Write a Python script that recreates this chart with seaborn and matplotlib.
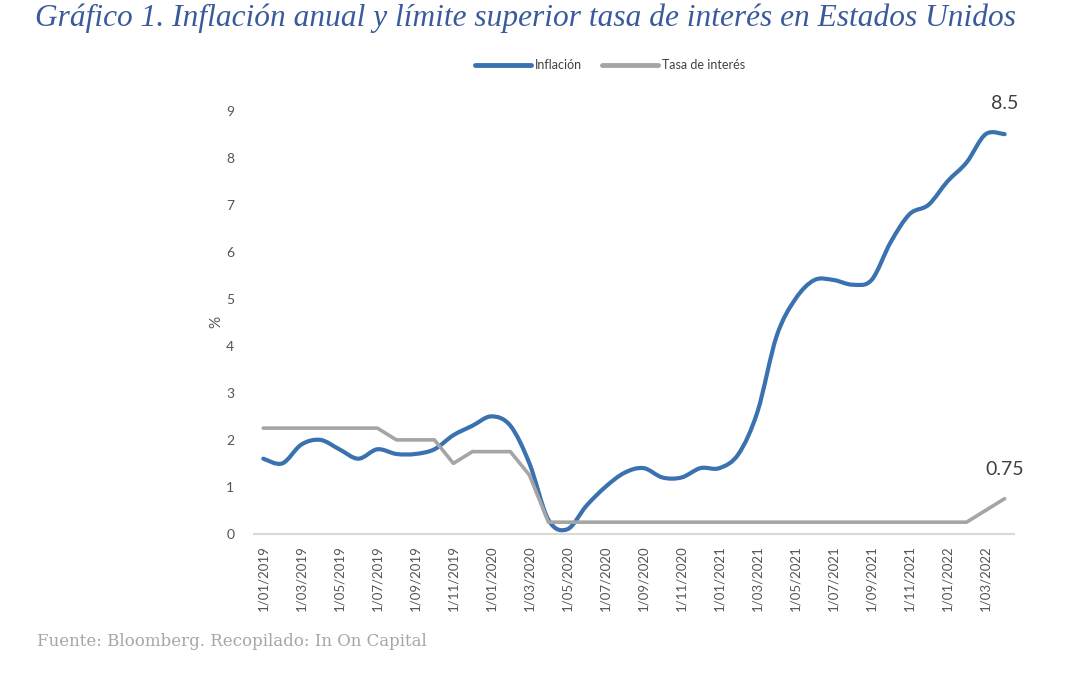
import numpy as np
import pandas as pd
import matplotlib
matplotlib.use("Agg")
import matplotlib.pyplot as plt
from matplotlib.path import Path
from matplotlib.patches import PathPatch
from matplotlib.lines import Line2D
import seaborn as sns

# monthly data, Jan 2019 - Apr 2022
months = pd.date_range("2019-01-01", "2022-04-01", freq="MS")
inflacion = [1.6, 1.5, 1.9, 2.0, 1.8, 1.6, 1.8, 1.7, 1.7, 1.8, 2.1, 2.3,
             2.5, 2.3, 1.5, 0.3, 0.1, 0.6, 1.0, 1.3, 1.4, 1.2, 1.2, 1.4,
             1.4, 1.7, 2.6, 4.2, 5.0, 5.4, 5.4, 5.3, 5.4, 6.2, 6.8, 7.0,
             7.5, 7.9, 8.5, 8.5]
tasa = [2.25, 2.25, 2.25, 2.25, 2.25, 2.25, 2.25, 2.0, 2.0, 2.0, 1.5, 1.75,
        1.75, 1.75, 1.25, 0.25, 0.25, 0.25, 0.25, 0.25, 0.25, 0.25, 0.25, 0.25,
        0.25, 0.25, 0.25, 0.25, 0.25, 0.25, 0.25, 0.25, 0.25, 0.25, 0.25, 0.25,
        0.25, 0.25, 0.5, 0.75]
yticks = [0, 1, 2, 3, 4, 5, 6, 7, 8, 9]

BLUE = "#3A72B0"
GRAY = "#A5A5A5"
TXT = "#555555"

sns.set_style("white")
plt.rcParams['font.family'] = ['Lato', 'DejaVu Sans']

df = pd.DataFrame({"idx": np.arange(len(months)), "Inflación": inflacion, "Tasa de interés": tasa})
labels = [f"1/{d.month:02d}/{d.year}" for d in months]

fig = plt.figure(figsize=(10.8, 6.75), dpi=100)
ax = fig.add_axes([0.235, 0.209, 0.704, 0.627])

sns.lineplot(data=df, x="idx", y="Tasa de interés", color=GRAY, lw=2.6, ax=ax)

# smoothed line like Excel (Catmull-Rom bezier through the data points)
x = df["idx"].to_numpy(float)
y = df["Inflación"].to_numpy(float)
pts = np.column_stack([x, y])
verts = [pts[0]]
codes = [Path.MOVETO]
n = len(pts)
for i in range(n - 1):
    p0 = pts[max(i - 1, 0)]
    p1 = pts[i]
    p2 = pts[i + 1]
    p3 = pts[min(i + 2, n - 1)]
    verts += [p1 + (p2 - p0) / 6, p2 - (p3 - p1) / 6, p2]
    codes += [Path.CURVE4] * 3
ax.add_patch(PathPatch(Path(verts, codes), fill=False, edgecolor=BLUE, lw=3,
                       capstyle="round", joinstyle="round"))

ax.set_xlim(-0.5, len(months) - 0.5)
ax.set_ylim(0, 9)
ax.set_yticks(yticks)
ax.set_xticks(df["idx"][::2])
ax.set_xticklabels(labels[::2], rotation=90, fontsize=9.5, color=TXT)
ax.set_xticks(np.arange(-0.5, len(months), 2), minor=True)
ax.tick_params(axis="x", which="major", length=0, pad=8)
ax.tick_params(axis="x", which="minor", length=5, color="#D9D9D9", width=1.2)
ax.tick_params(axis="y", length=0, pad=14, labelsize=10, labelcolor=TXT)
ax.set_xlabel("")
ax.set_ylabel("%", fontsize=11, color=TXT, labelpad=2)
for s in ["top", "right", "left"]:
    ax.spines[s].set_visible(False)
ax.spines["bottom"].set_color("#D9D9D9")
ax.spines["bottom"].set_linewidth(1.5)

ax.annotate(f"{inflacion[-1]}", (x[-1], y[-1]), xytext=(0, 22), textcoords="offset points",
            ha="center", va="center", fontsize=14, color="#404040", annotation_clip=False)
ax.annotate(f"{tasa[-1]}", (x[-1], tasa[-1]), xytext=(0, 21), textcoords="offset points",
            ha="center", va="center", fontsize=14, color="#404040", annotation_clip=False)

handles = [Line2D([], [], color=BLUE, lw=3.5), Line2D([], [], color=GRAY, lw=3.5)]
fig.legend(handles, ["Inflación", "Tasa de interés"], loc="center", bbox_to_anchor=(0.565, 0.903),
           ncol=2, frameon=False, fontsize=9, handlelength=4.5, columnspacing=1.6, handletextpad=0.3,
           labelcolor="#404040")

fig.text(0.032, 0.973, "Gráfico 1. Inflación anual y límite superior tasa de interés en Estados Unidos",
         family="Liberation Serif", style="italic", fontsize=22.6, color="#3A5A9B", va="center")
fig.text(0.034, 0.05, "Fuente: Bloomberg. Recopilado: In On Capital",
         family="DejaVu Serif", fontsize=12, color="#A6A6A6", va="center")

fig.savefig("out.png", dpi=100)
